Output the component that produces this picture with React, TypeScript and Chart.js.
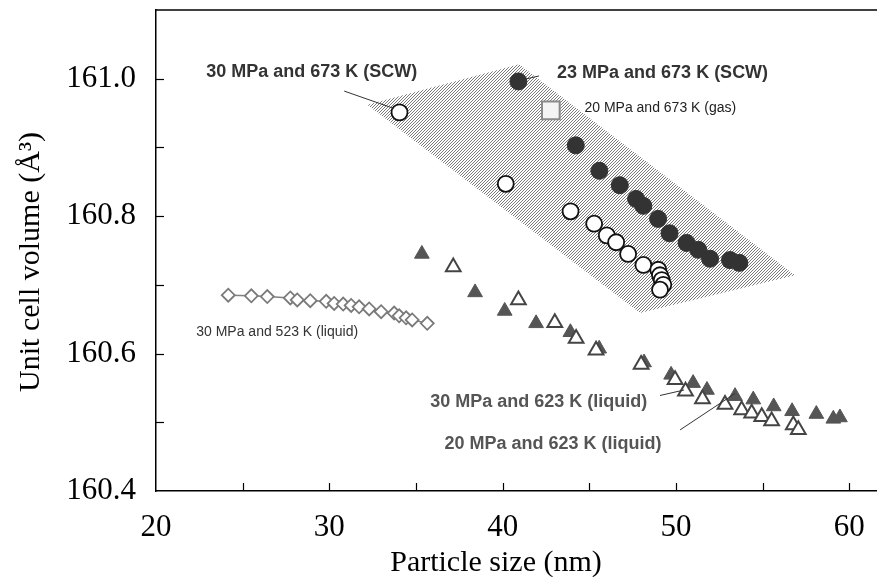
import React, { useEffect, useRef } from 'react';
import { Chart, registerables } from 'chart.js';
Chart.register(...registerables);

// 30 MPa and 523 K (liquid) - open diamonds
const diamondX = [24.17, 25.5, 26.42, 27.75, 28.15, 28.9, 29.82, 30.28, 30.8, 31.26, 31.72, 32.3, 32.99, 33.74, 34.03, 34.43, 34.78, 35.65];
const diamondY = [160.685, 160.684, 160.683, 160.681, 160.678, 160.677, 160.676, 160.673, 160.672, 160.67, 160.668, 160.665, 160.661, 160.659, 160.655, 160.652, 160.649, 160.644];

// 30 MPa and 623 K (liquid) - filled triangles
const triFilledX = [35.34, 38.41, 40.12, 41.93, 43.91, 45.57, 48.16, 49.72, 50.99, 51.79, 53.41, 54.46, 55.64, 56.7, 58.1, 59.08, 59.46];
const triFilledY = [160.745, 160.689, 160.662, 160.644, 160.631, 160.607, 160.587, 160.569, 160.557, 160.547, 160.538, 160.533, 160.523, 160.516, 160.512, 160.505, 160.507];

// 20 MPa and 623 K (liquid) - open triangles
const triOpenX = [37.15, 40.91, 43.01, 44.24, 45.39, 47.99, 49.95, 50.55, 51.53, 52.83, 53.79, 54.37, 54.95, 55.52, 56.77, 57.06];
const triOpenY = [160.726, 160.678, 160.645, 160.622, 160.605, 160.584, 160.562, 160.545, 160.534, 160.526, 160.518, 160.513, 160.508, 160.502, 160.496, 160.489];

// 23 MPa and 673 K (SCW) - filled circles
const circFilledX = [40.91, 44.22, 45.58, 46.76, 47.7, 48.12, 48.97, 49.63, 50.61, 51.29, 51.97, 53.12, 53.66];
const circFilledY = [160.996, 160.903, 160.866, 160.845, 160.825, 160.815, 160.796, 160.775, 160.761, 160.751, 160.738, 160.736, 160.732];

// 30 MPa and 673 K (SCW) - open circles
const circOpenX = [34.05, 40.18, 43.92, 45.28, 46.01, 46.55, 47.24, 48.12, 48.98, 49.08, 49.18, 49.27, 49.08];
const circOpenY = [160.951, 160.847, 160.807, 160.789, 160.772, 160.762, 160.745, 160.729, 160.722, 160.714, 160.707, 160.7, 160.693];

// 20 MPa and 673 K (gas) - open square
const squareX = [42.78];
const squareY = [160.954];

// shaded SCW region (data units)
const regionX = [32.19, 40.95, 56.87, 47.93];
const regionY = [160.962, 161.021, 160.714, 160.659];

// axis ticks
const xTickLabels = [20, 30, 40, 50, 60];
const yTickLabels = [160.4, 160.6, 160.8, 161.0];

// annotations (anchor in data units)
const annoText = [
  '30 MPa and 673 K (SCW)',
  '23 MPa and 673 K (SCW)',
  '20 MPa and 673 K (gas)',
  '30 MPa and 523 K (liquid)',
  '30 MPa and 623 K (liquid)',
  '20 MPa and 623 K (liquid)',
];
const annoX = [22.9, 43.14, 44.72, 22.32, 35.82, 36.64];
const annoY = [161.01, 161.008, 160.957, 160.631, 160.53, 160.469];
const annoBold = [true, true, false, false, true, true];
const annoColor = ['#333333', '#333333', '#222222', '#333333', '#555555', '#555555'];

const leaderX1 = [30.86, 40.89, 49.08, 50.24];
const leaderY1 = [160.982, 160.997, 160.539, 160.489];
const leaderX2 = [33.69, 42.1, 50.47, 53.41];
const leaderY2 = [160.957, 161.004, 160.547, 160.542];

const toPts = (xs: number[], ys: number[]) => xs.map((x, i) => ({ x, y: ys[i] }));

const customPlugin = {
  id: 'customDecor',
  beforeDatasetsDraw(chart: any) {
    const { ctx, chartArea, scales } = chart;
    const xs = scales.x, ys = scales.y;
    const pc = document.createElement('canvas');
    pc.width = 3; pc.height = 3;
    const p = pc.getContext('2d')!;
    p.fillStyle = '#ffffff';
    p.fillRect(0, 0, 3, 3);
    p.strokeStyle = '#7a7a7a';
    p.lineWidth = 1;
    p.beginPath();
    p.moveTo(-1, 4); p.lineTo(4, -1);
    p.stroke();
    const pattern = ctx.createPattern(pc, 'repeat');
    ctx.save();
    ctx.beginPath();
    ctx.rect(chartArea.left, chartArea.top, chartArea.right - chartArea.left, chartArea.bottom - chartArea.top);
    ctx.clip();
    ctx.beginPath();
    regionX.forEach((x, i) => {
      const px = xs.getPixelForValue(x), py = ys.getPixelForValue(regionY[i]);
      if (i === 0) ctx.moveTo(px, py); else ctx.lineTo(px, py);
    });
    ctx.closePath();
    ctx.fillStyle = pattern;
    ctx.fill();
    ctx.restore();
  },
  afterDatasetsDraw(chart: any) {
    const { ctx, scales } = chart;
    const xs = scales.x, ys = scales.y;
    ctx.save();
    ctx.strokeStyle = '#333333';
    ctx.lineWidth = 1;
    leaderX1.forEach((x, i) => {
      ctx.beginPath();
      ctx.moveTo(xs.getPixelForValue(x), ys.getPixelForValue(leaderY1[i]));
      ctx.lineTo(xs.getPixelForValue(leaderX2[i]), ys.getPixelForValue(leaderY2[i]));
      ctx.stroke();
    });
    ctx.textAlign = 'left';
    ctx.textBaseline = 'middle';
    annoText.forEach((t, i) => {
      ctx.font = annoBold[i] ? 'bold 18px "Liberation Sans", Arial, sans-serif' : '14px "Liberation Sans", Arial, sans-serif';
      ctx.fillStyle = annoColor[i];
      ctx.fillText(t, xs.getPixelForValue(annoX[i]), ys.getPixelForValue(annoY[i]));
    });
    ctx.restore();
  },
  afterDraw(chart: any) {
    const { ctx, chartArea, scales } = chart;
    const xs = scales.x, ys = scales.y;
    ctx.save();
    ctx.strokeStyle = '#000000';
    ctx.lineWidth = 1.5;
    // top frame
    ctx.beginPath();
    ctx.moveTo(chartArea.left, chartArea.top);
    ctx.lineTo(chartArea.right, chartArea.top);
    ctx.stroke();
    // inward tick marks
    ctx.lineWidth = 1.2;
    xs.ticks.forEach((t: any) => {
      const px = Math.round(xs.getPixelForValue(t.value)) + 0.5;
      if (px <= chartArea.left + 1) return;
      ctx.beginPath();
      ctx.moveTo(px, chartArea.bottom);
      ctx.lineTo(px, chartArea.bottom - 8);
      ctx.stroke();
    });
    ys.ticks.forEach((t: any) => {
      const py = Math.round(ys.getPixelForValue(t.value)) + 0.5;
      if (py >= chartArea.bottom - 1 || py <= chartArea.top + 1) return;
      ctx.beginPath();
      ctx.moveTo(chartArea.left, py);
      ctx.lineTo(chartArea.left + 8, py);
      ctx.stroke();
    });
    // axis titles
    ctx.fillStyle = '#000000';
    ctx.font = '30px "Liberation Serif", "Times New Roman", serif';
    ctx.textAlign = 'center';
    ctx.textBaseline = 'middle';
    ctx.fillText('Particle size (nm)', 496, 563);
    ctx.translate(31, 262);
    ctx.rotate(-Math.PI / 2);
    ctx.fillText('Unit cell volume (\u00C5\u00B3)', 0, 0);
    ctx.restore();
  },
};

export default function App() {
  const ref = useRef<HTMLCanvasElement | null>(null);
  useEffect(() => {
    if (!ref.current) return;
    const tickFont = { family: '"Liberation Serif", "Times New Roman", serif', size: 31 };
    const chart = new Chart(ref.current, {
      type: 'scatter',
      data: {
        datasets: [
          {
            label: '20 MPa and 623 K (liquid)',
            data: toPts(triOpenX, triOpenY),
            pointStyle: 'triangle',
            pointRadius: 8.5,
            pointBackgroundColor: '#ffffff',
            pointBorderColor: '#444444',
            pointBorderWidth: 2,
          },
          {
            label: '30 MPa and 623 K (liquid)',
            data: toPts(triFilledX, triFilledY),
            pointStyle: 'triangle',
            pointRadius: 8.5,
            pointBackgroundColor: '#555555',
            pointBorderColor: '#555555',
            pointBorderWidth: 1,
          },
          {
            label: '30 MPa and 523 K (liquid)',
            data: toPts(diamondX, diamondY),
            showLine: true,
            borderColor: '#808080',
            borderWidth: 1.5,
            pointStyle: 'rectRot',
            pointRadius: 6.5,
            pointBackgroundColor: '#ffffff',
            pointBorderColor: '#7a7a7a',
            pointBorderWidth: 1.8,
          },
          {
            label: '30 MPa and 673 K (SCW)',
            data: toPts(circOpenX, circOpenY),
            pointStyle: 'circle',
            pointRadius: 8,
            pointBackgroundColor: '#ffffff',
            pointBorderColor: '#111111',
            pointBorderWidth: 1.8,
          },
          {
            label: '23 MPa and 673 K (SCW)',
            data: toPts(circFilledX, circFilledY),
            pointStyle: 'circle',
            pointRadius: 8.5,
            pointBackgroundColor: '#333333',
            pointBorderColor: '#333333',
            pointBorderWidth: 1,
          },
          {
            label: '20 MPa and 673 K (gas)',
            data: toPts(squareX, squareY),
            pointStyle: 'rect',
            pointRadius: 12.5,
            pointBackgroundColor: '#f4f4f4',
            pointBorderColor: '#8a8a8a',
            pointBorderWidth: 2,
          },
        ],
      },
      options: {
        responsive: false,
        animation: false,
        events: [],
        layout: { autoPadding: false, padding: { top: 10, left: 0, right: 0, bottom: 0 } },
        plugins: { legend: { display: false }, tooltip: { enabled: false } },
        scales: {
          x: {
            type: 'linear',
            min: 20,
            max: 61.6,
            afterFit: (s: any) => { s.height = 86; s.paddingLeft = 0; s.paddingRight = 0; },
            border: { display: true, color: '#000000', width: 1.5 },
            grid: { display: false, drawTicks: false },
            ticks: {
              stepSize: 5,
              includeBounds: false,
              padding: 18,
              color: '#000000',
              font: tickFont,
              maxRotation: 0,
              autoSkip: false,
              callback: (v: any) => {
                const n = Number(v);
                return xTickLabels.some((t) => Math.abs(t - n) < 1e-6) ? String(n) : '';
              },
            },
          },
          y: {
            type: 'linear',
            min: 160.4,
            max: 161.1,
            afterFit: (s: any) => { s.width = 156; s.paddingTop = 0; s.paddingBottom = 0; },
            border: { display: true, color: '#000000', width: 1.5 },
            grid: { display: false, drawTicks: false },
            ticks: {
              stepSize: 0.1,
              padding: 20,
              color: '#000000',
              font: tickFont,
              autoSkip: false,
              callback: (v: any) => {
                const n = Number(v);
                return yTickLabels.some((t) => Math.abs(t - n) < 1e-6) ? n.toFixed(1) : '';
              },
            },
          },
        },
      },
      plugins: [customPlugin],
    } as any);
    return () => chart.destroy();
  }, []);
  return (
    <div style={{ position: 'absolute', left: 0, top: 0, width: 877, height: 577, background: '#ffffff' }}>
      <canvas ref={ref} width={877} height={577} style={{ display: 'block', width: 877, height: 577 }} />
    </div>
  );
}
